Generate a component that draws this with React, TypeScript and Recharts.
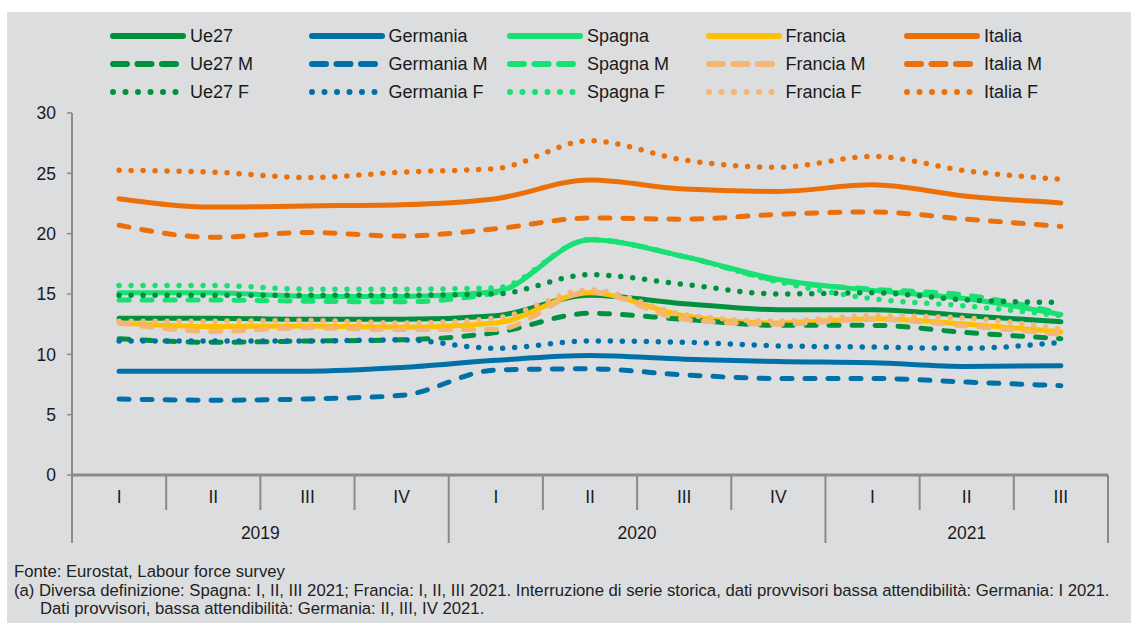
import React from 'react';
import { LineChart, Line, XAxis, YAxis } from 'recharts';

// categories
const quarters = ['I', 'II', 'III', 'IV', 'I', 'II', 'III', 'IV', 'I', 'II', 'III'];
const years = ['2019', '2020', '2021'];
const yearSpans = [4, 4, 3];
const yTicks = [0, 5, 10, 15, 20, 25, 30];

// series values
const ue27 = [13.0, 13.0, 12.9, 12.9, 13.2, 14.9, 14.2, 13.7, 13.7, 13.2, 12.7];
const germania = [8.6, 8.6, 8.6, 8.9, 9.5, 9.9, 9.6, 9.4, 9.3, 9.0, 9.05];
const spagna = [15.1, 15.1, 14.8, 14.8, 15.2, 19.5, 18.1, 16.2, 15.3, 14.6, 13.3];
const francia = [12.6, 12.3, 12.35, 12.25, 12.6, 15.1, 13.2, 12.6, 12.95, 12.5, 11.85];
const italia = [22.9, 22.2, 22.3, 22.4, 22.9, 24.45, 23.7, 23.5, 24.05, 23.1, 22.55];

const ue27M = [11.3, 11.0, 11.1, 11.2, 11.8, 13.4, 12.9, 12.4, 12.4, 11.8, 11.3];
const germaniaM = [6.3, 6.2, 6.3, 6.6, 8.7, 8.8, 8.3, 8.0, 8.0, 7.7, 7.4];
const spagnaM = [14.5, 14.5, 14.4, 14.35, 15.1, 19.5, 18.1, 16.1, 15.4, 14.9, 13.4];
const franciaM = [12.6, 11.9, 12.2, 12.05, 12.05, 15.2, 12.9, 12.5, 12.9, 12.35, 11.65];
const italiaM = [20.7, 19.7, 20.1, 19.8, 20.4, 21.3, 21.2, 21.6, 21.8, 21.2, 20.6];

const ue27F = [14.9, 14.9, 14.9, 14.9, 15.0, 16.6, 15.8, 15.0, 15.1, 14.5, 14.3];
const germaniaF = [11.1, 11.1, 11.1, 11.2, 10.5, 11.1, 11.0, 10.7, 10.6, 10.5, 11.0];
const spagnaF = [15.7, 15.7, 15.4, 15.4, 15.5, 19.5, 18.1, 16.0, 14.6, 14.0, 13.2];
const franciaF = [12.75, 12.75, 12.8, 12.6, 13.0, 15.35, 13.3, 12.75, 13.2, 13.0, 12.1];
const italiaF = [25.25, 25.1, 24.65, 25.1, 25.4, 27.7, 26.1, 25.5, 26.4, 25.2, 24.5];

type Style = 'solid' | 'dash' | 'dot';
interface Series { key: string; name: string; color: string; style: Style; values: number[] }

const series: Series[] = [
  { key: 'ue27', name: 'Ue27', color: '#00913f', style: 'solid', values: ue27 },
  { key: 'germania', name: 'Germania', color: '#0071a8', style: 'solid', values: germania },
  { key: 'spagna', name: 'Spagna', color: '#19e072', style: 'solid', values: spagna },
  { key: 'francia', name: 'Francia', color: '#ffc000', style: 'solid', values: francia },
  { key: 'italia', name: 'Italia', color: '#ec700a', style: 'solid', values: italia },
  { key: 'ue27M', name: 'Ue27 M', color: '#00913f', style: 'dash', values: ue27M },
  { key: 'germaniaM', name: 'Germania M', color: '#0071a8', style: 'dash', values: germaniaM },
  { key: 'spagnaM', name: 'Spagna M', color: '#19e072', style: 'dash', values: spagnaM },
  { key: 'franciaM', name: 'Francia M', color: '#f5b673', style: 'dash', values: franciaM },
  { key: 'italiaM', name: 'Italia M', color: '#ec700a', style: 'dash', values: italiaM },
  { key: 'ue27F', name: 'Ue27 F', color: '#00913f', style: 'dot', values: ue27F },
  { key: 'germaniaF', name: 'Germania F', color: '#0071a8', style: 'dot', values: germaniaF },
  { key: 'spagnaF', name: 'Spagna F', color: '#19e072', style: 'dot', values: spagnaF },
  { key: 'franciaF', name: 'Francia F', color: '#f5b673', style: 'dot', values: franciaF },
  { key: 'italiaF', name: 'Italia F', color: '#ec700a', style: 'dot', values: italiaF },
];

const yearOf: string[] = years.flatMap((y, i) => Array(yearSpans[i]).fill(y));
const data = quarters.map((q, i) => {
  const row: Record<string, string | number> = { period: `${yearOf[i]} ${q}` };
  series.forEach(s => { row[s.key] = s.values[i]; });
  return row;
});

// layout
const CHART_W = 1131;
const CHART_H = 560;
const MARGIN = { top: 113, right: 23, left: 12, bottom: 15 };
const Y_W = 60;
const X_H = 70;
const PLOT_LEFT = MARGIN.left + Y_W;
const PLOT_W = CHART_W - MARGIN.right - PLOT_LEFT;
const STEP = PLOT_W / quarters.length;
const AXIS_Y = CHART_H - MARGIN.bottom - X_H;
const GRID = '#8a8a8a';
const TXT = '#1a1a1a';
const FONT = '"Liberation Sans", Arial, sans-serif';

const dashFor = (s: Style) => (s === 'dash' ? '10 13' : s === 'dot' ? '0 12' : undefined);

const yearStarts = yearSpans.map((_, i) => yearSpans.slice(0, i).reduce((a, b) => a + b, 0));

const PeriodTick = (props: any) => {
  const { x, index } = props;
  const left = x - STEP / 2;
  const yi = yearStarts.indexOf(index);
  const isLast = index === quarters.length - 1;
  return (
    <g>
      <line x1={left} x2={left} y1={AXIS_Y} y2={AXIS_Y + (yi >= 0 ? 68 : 35)} stroke={GRID} strokeWidth={2} />
      {isLast && <line x1={x + STEP / 2} x2={x + STEP / 2} y1={AXIS_Y} y2={AXIS_Y + 68} stroke={GRID} strokeWidth={2} />}
      <text x={x} y={AXIS_Y + 28} textAnchor="middle" fontSize={17.5} fill={TXT} fontFamily={FONT}>{quarters[index]}</text>
      {yi >= 0 && (
        <text x={left + (yearSpans[yi] * STEP) / 2} y={AXIS_Y + 64} textAnchor="middle" fontSize={17.5} fill={TXT} fontFamily={FONT}>
          {years[yi]}
        </text>
      )}
    </g>
  );
};

const LegendSample = ({ s }: { s: Series }) => (
  <svg width={80} height={12} style={{ display: 'block' }}>
    <line
      x1={3} x2={s.style === 'dot' ? 70 : 73} y1={6} y2={6}
      stroke={s.color} strokeWidth={6} strokeLinecap="round"
      strokeDasharray={s.style === 'dash' ? '14 10.5' : s.style === 'dot' ? '0 12.5' : undefined}
    />
  </svg>
);

const Legend = () => (
  <div style={{ position: 'absolute', left: 110, top: 24 }}>
    {[0, 1, 2].map(r => (
      <div key={r} style={{ display: 'flex', height: 28 }}>
        {series.slice(r * 5, r * 5 + 5).map(s => (
          <div key={s.key} style={{ width: 198.5, display: 'flex', alignItems: 'center', height: 24 }}>
            <LegendSample s={s} />
            <span style={{ fontSize: 18, color: TXT, marginLeft: 0, whiteSpace: 'nowrap' }}>{s.name}</span>
          </div>
        ))}
      </div>
    ))}
  </div>
);

const noteStyle: React.CSSProperties = {
  position: 'absolute',
  fontFamily: '"Liberation Sans Narrow", "Arial Narrow", sans-serif',
  fontSize: 16.7,
  color: '#222',
  whiteSpace: 'nowrap',
  lineHeight: '18px',
};

export default function App() {
  return (
    <div style={{ position: 'absolute', left: 0, top: 0, width: 1131, height: 625, background: '#fff', fontFamily: FONT }}>
      <div style={{ position: 'absolute', left: 7, top: 12, width: 1124, height: 611, background: '#dcdddf' }} />
      <Legend />
      <div style={{ position: 'absolute', left: 0, top: 0 }}>
        <LineChart width={CHART_W} height={CHART_H} data={data} margin={MARGIN}>
          <XAxis
            dataKey="period"
            interval={0}
            height={X_H}
            padding={{ left: STEP / 2, right: STEP / 2 }}
            axisLine={{ stroke: GRID, strokeWidth: 3 }}
            tickLine={false}
            tick={PeriodTick}
          />
          <YAxis
            domain={[0, 30]}
            ticks={yTicks}
            width={Y_W}
            tickSize={5}
            tickMargin={11}
            axisLine={{ stroke: GRID, strokeWidth: 2 }}
            tickLine={{ stroke: GRID, strokeWidth: 1.5 }}
            tick={{ fill: TXT, fontSize: 17.5, fontFamily: FONT }}
          />
          {series.map(s => (
            <Line
              key={s.key}
              dataKey={s.key}
              name={s.name}
              type="monotone"
              stroke={s.color}
              strokeWidth={s.style === 'dot' ? 5.5 : 5}
              strokeDasharray={dashFor(s.style)}
              strokeLinecap="round"
              dot={false}
              activeDot={false}
              isAnimationActive={false}
            />
          ))}
        </LineChart>
      </div>
      <div style={{ ...noteStyle, left: 14, top: 563 }}>Fonte: Eurostat, Labour force survey</div>
      <div style={{ ...noteStyle, left: 14, top: 582 }}>
        (a) Diversa definizione: Spagna: I, II, III 2021; Francia: I, II, III 2021. Interruzione di serie storica, dati provvisori bassa attendibilità: Germania: I 2021.
      </div>
      <div style={{ ...noteStyle, left: 40, top: 600 }}>Dati provvisori, bassa attendibilità: Germania: II, III, IV 2021.</div>
    </div>
  );
}
